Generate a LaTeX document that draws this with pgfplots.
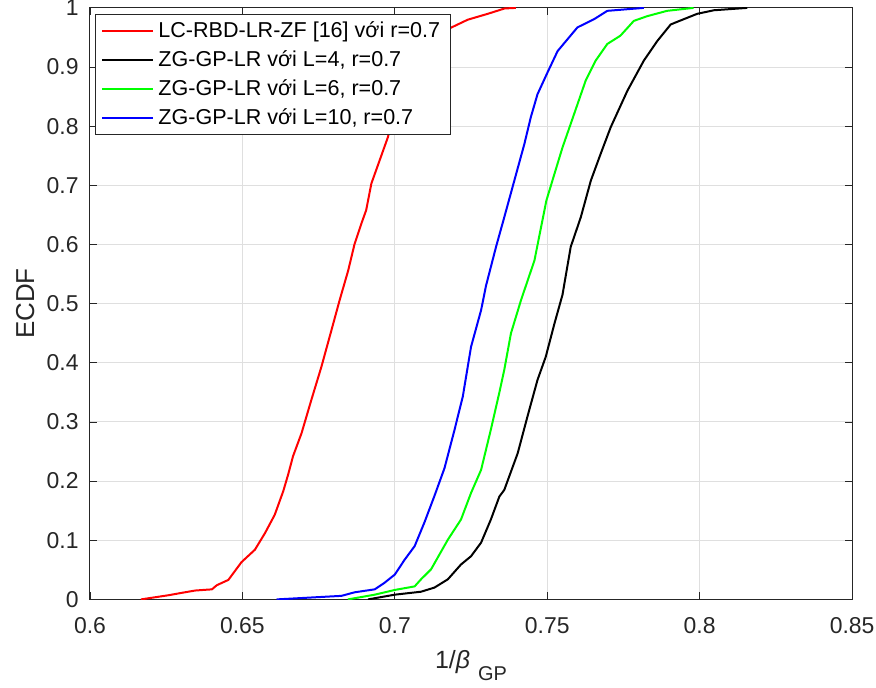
\documentclass[border=0pt]{standalone}
\usepackage{fontspec}
\setmainfont{Liberation Sans}
\usepackage{pgfplots}
\pgfplotsset{compat=1.18}
\definecolor{axcol}{HTML}{262626}
\definecolor{gridcol}{HTML}{DFDFDF}
\definecolor{myred}{HTML}{FF0000}
\definecolor{mygreen}{HTML}{00FF00}
\definecolor{myblue}{HTML}{0000FF}
\begin{document}
\begin{tikzpicture}
\begin{axis}[
  scale only axis,
  width=382pt, height=296.5pt,
  xmin=0.6, xmax=0.85, ymin=0, ymax=1,
  xtick={0.6,0.65,0.7,0.75,0.8,0.85},
  ytick={0,0.1,0.2,0.3,0.4,0.5,0.6,0.7,0.8,0.9,1},
  xticklabels={0.6,0.65,0.7,0.75,0.8,0.85},
  yticklabels={0,0.1,0.2,0.3,0.4,0.5,0.6,0.7,0.8,0.9,1},
  /pgf/number format/assume math mode=true,
  tick label style={font=\fontsize{11.5}{13}\selectfont, color=axcol},
  yticklabel style={inner ysep=0pt, xshift=-2.2pt},
  xticklabel style={yshift=-5.7pt, inner xsep=0.8pt},
  tick align=inside,
  major tick length=3.5pt,
  every tick/.style={axcol, line width=0.4pt},
  axis line style={axcol, line width=0.5pt},
  grid=major,
  grid style={gridcol, line width=0.5pt},
  xlabel={1/\textit{β}\hspace{4pt}\raisebox{-6pt}{\fontsize{10}{12}\selectfont GP}},
  ylabel={ECDF},
  xlabel style={at={(axis description cs:0.5,0)}, anchor=north, yshift=-22pt,
     font=\fontsize{12.5}{14}\selectfont, color=axcol},
  ylabel style={at={(axis description cs:-0.0851,0.5)}, anchor=center, inner ysep=8pt,
     font=\fontsize{13}{15}\selectfont, color=axcol},
  legend style={at={(0.0065,0.99)}, anchor=north west, draw=axcol, line width=0.4pt,
    fill=white, font=\fontsize{10.8}{13}\selectfont, row sep=1.2pt,
    inner xsep=3pt, inner ysep=1.5pt, cells={anchor=west}},
  legend cell align=left,
  legend image code/.code={\draw[#1] (0cm,0cm) -- (0.9cm,0cm);},
]
\addplot[color=myred, line width=1pt] coordinates {
(0.6167,0) (0.6257,0.007) (0.630,0.011) (0.6345,0.015) (0.640,0.017) (0.6416,0.024)
(0.6454,0.033) (0.6497,0.063) (0.6541,0.084) (0.6574,0.112) (0.6606,0.143) (0.6634,0.183)
(0.665,0.211) (0.6666,0.242) (0.6694,0.281) (0.671,0.309) (0.6726,0.337) (0.6759,0.393)
(0.6792,0.455) (0.6819,0.506) (0.6847,0.556) (0.6868,0.601) (0.689,0.635) (0.6906,0.658)
(0.6923,0.703) (0.695,0.742) (0.6977,0.781) (0.701,0.85) (0.705,0.9) (0.709,0.93)
(0.7174,0.964) (0.7239,0.98) (0.7305,0.99) (0.736,0.999) (0.7397,1)
};
\addlegendentry{LC-RBD-LR-ZF [16] với r=0.7}
\addplot[color=black, line width=1pt] coordinates {
(0.6912,0) (0.7,0.008) (0.7086,0.013) (0.713,0.02) (0.7174,0.034) (0.7217,0.059)
(0.725,0.073) (0.7283,0.096) (0.7315,0.135) (0.7343,0.174) (0.7359,0.185) (0.7403,0.247)
(0.7435,0.309) (0.7468,0.371) (0.7495,0.41) (0.7524,0.467) (0.755,0.515) (0.7577,0.596)
(0.761,0.646) (0.7643,0.708) (0.7675,0.753) (0.7708,0.798) (0.7763,0.86) (0.7817,0.911)
(0.7861,0.944) (0.7905,0.972) (0.7992,0.99) (0.8047,0.996) (0.8156,1)
};
\addlegendentry{ZG-GP-LR với L=4, r=0.7}
\addplot[color=mygreen, line width=1pt] coordinates {
(0.6846,0) (0.6934,0.008) (0.7,0.016) (0.7065,0.022) (0.7086,0.034) (0.7119,0.051)
(0.7174,0.101) (0.7217,0.135) (0.725,0.18) (0.7283,0.219) (0.7315,0.287) (0.7343,0.35)
(0.7359,0.388) (0.7381,0.45) (0.7414,0.506) (0.7458,0.573) (0.7497,0.674) (0.7524,0.72)
(0.755,0.764) (0.7577,0.804) (0.7626,0.877) (0.7659,0.911) (0.7697,0.939) (0.774,0.953)
(0.7784,0.978) (0.7828,0.986) (0.7893,0.995) (0.798,1)
};
\addlegendentry{ZG-GP-LR với L=6, r=0.7}
\addplot[color=myblue, line width=1pt] coordinates {
(0.6612,0) (0.6825,0.006) (0.6868,0.012) (0.6934,0.017) (0.6966,0.028) (0.7,0.042)
(0.7032,0.067) (0.7065,0.09) (0.7097,0.13) (0.713,0.175) (0.7163,0.222) (0.7195,0.285)
(0.7223,0.343) (0.725,0.427) (0.7283,0.489) (0.7299,0.53) (0.7332,0.596) (0.7359,0.646)
(0.7392,0.708) (0.7425,0.77) (0.7446,0.815) (0.7468,0.854) (0.7501,0.891) (0.7534,0.927)
(0.7599,0.967) (0.7654,0.981) (0.7697,0.995) (0.7817,1)
};
\addlegendentry{ZG-GP-LR với L=10, r=0.7}
\end{axis}
\end{tikzpicture}
\end{document}
